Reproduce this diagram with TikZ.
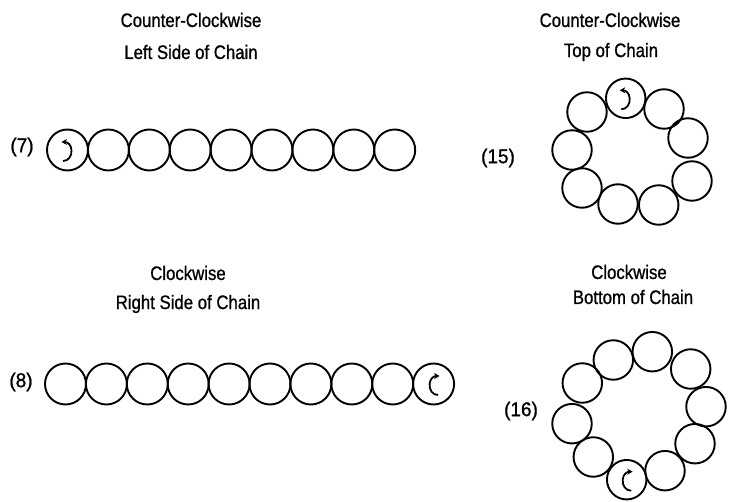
\documentclass[tikz,border=0pt]{standalone}
\usepackage{fontspec}
\setmainfont{Liberation Sans}[FakeBold=1]
\usetikzlibrary{arrows.meta}
\tikzset{
  bead/.style={circle,draw,line width=1.9pt,minimum size=41pt,inner sep=0pt},
  rbead/.style={circle,draw,line width=1.9pt,minimum size=39.5pt,inner sep=0pt},
  lbl/.style={font=\fontsize{19.5}{22}\selectfont,inner sep=0pt},
  num/.style={font=\fontsize{20}{24}\selectfont,inner sep=0pt},
  rot/.style={line width=1.8pt,-{Stealth[length=5.5pt,width=6pt]}}
}
\newcommand\ttl[1]{\addfontfeature{FakeBold=1}\scalebox{0.86}[1]{#1}}
\newcommand\nmb[1]{\addfontfeature{FakeBold=1}\scalebox{0.95}[1]{#1}}
\begin{document}
\begin{tikzpicture}[x=1pt,y=-1pt]
\useasboundingbox (0,0) rectangle (731,502);
% titles
\node[lbl] (t1a) at (191,20) {\ttl{Counter-Clockwise}};
\node[lbl] (t1b) at (191,52) {\ttl{Left Side of Chain}};
\node[lbl] (t2a) at (610,20) {\ttl{Counter-Clockwise}};
\node[lbl] (t2b) at (611,52) {\ttl{Top of Chain}};
\node[lbl] (t3a) at (188,273) {\ttl{Clockwise}};
\node[lbl] (t3b) at (188,304) {\ttl{Right Side of Chain}};
\node[lbl] (t4a) at (629,272) {\ttl{Clockwise}};
\node[lbl] (t4b) at (633,297) {\ttl{Bottom of Chain}};
% numbers
\node[num] (n7) at (22,147) {\nmb{(7)}};
\node[num] (n8) at (21,382) {\nmb{(8)}};
\node[num] (n15) at (498,158) {\nmb{(15)}};
\node[num] (n16) at (521,411) {\nmb{(16)}};
% chain 7
\foreach \i in {0,...,8} \node[bead] (r7-\i) at (67.5+40.9*\i,150) {};
% chain 8
\foreach \i in {0,...,9} \node[bead] (r8-\i) at (65.5+40.9*\i,384) {};
% ring 15
\foreach \n/\x/\y in {1/625.7/98.3, 2/664/109, 3/688/138, 4/692/181, 5/658.7/205,
                      6/618/204, 7/582/188, 8/572/150, 9/587/112}
  \node[rbead] (g15-\n) at (\x,\y) {};
% ring 16
\foreach \n/\x/\y in {1/652.3/351.7, 2/690.7/369, 3/706/406.7, 4/695/443.7, 5/665/470.7,
                      6/626.7/479.7, 7/593.3/457, 8/572/423.7, 9/582.3/383, 10/613.3/360}
  \node[rbead] (g16-\n) at (\x,\y) {};
% rotation arrows: counter-clockwise
\foreach \c in {r7-0,g15-1}{
  \begin{scope}[shift={(\c.center)}]
    \draw[rot] (-4.5,11) .. controls (1,11) and (4.5,6) .. (4,0)
                       .. controls (3.5,-5.5) and (0,-8) .. (-6,-8);
  \end{scope}}
% rotation arrows: clockwise
\foreach \c in {r8-9,g16-6}{
  \begin{scope}[shift={(\c.center)}]
    \draw[rot] (4.5,11) .. controls (-1,11) and (-4.5,6) .. (-4,0)
                      .. controls (-3.5,-5.5) and (0,-8) .. (6,-8);
  \end{scope}}
\end{tikzpicture}
\end{document}
